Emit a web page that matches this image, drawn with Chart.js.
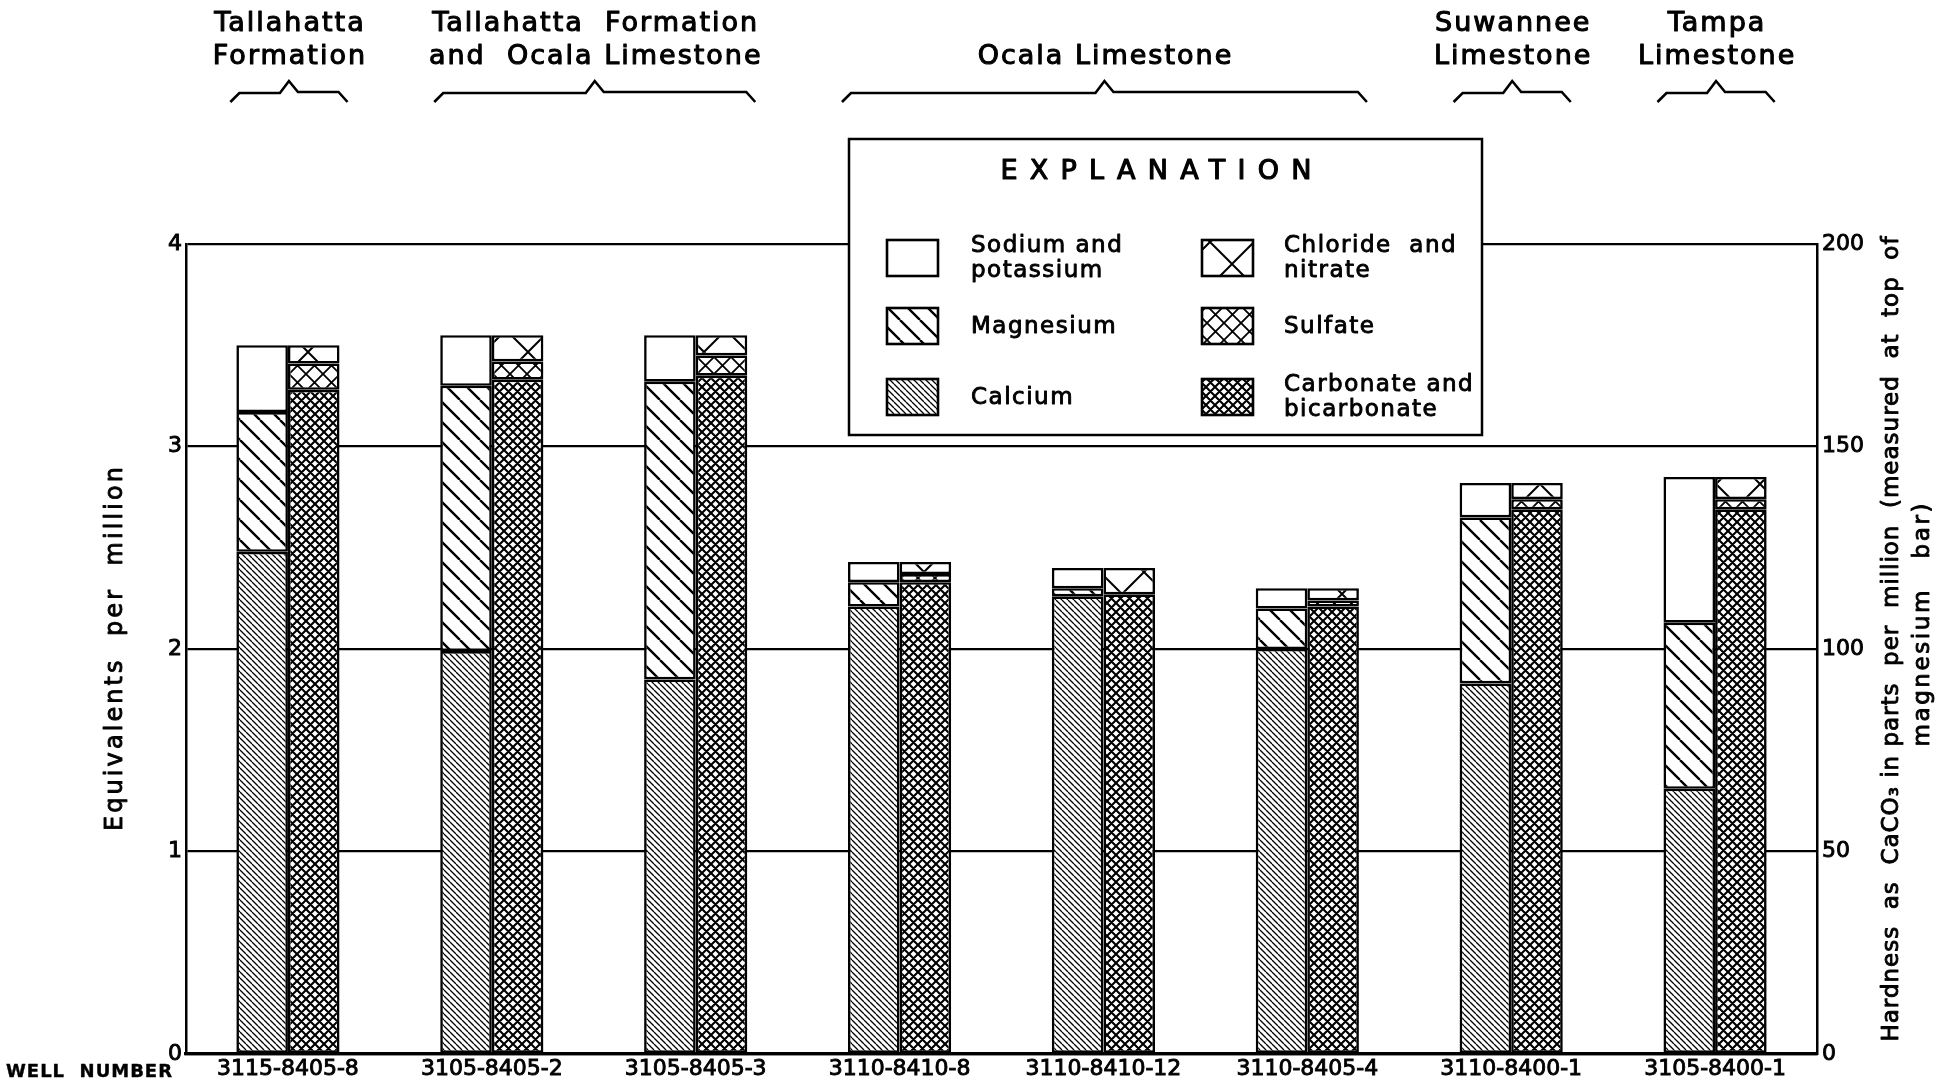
<!DOCTYPE html>
<html>
<head>
<meta charset="utf-8">
<script src="https://cdn.jsdelivr.net/npm/chart.js@4"></script>
<style>
  html, body { margin: 0; padding: 0; background: #fff; }
  canvas { display: block; }
</style>
</head>
<body>
<canvas id="c" width="1949" height="1086"></canvas>
<script>
// Well numbers along the bottom axis
const wells = ['3115-8405-8', '3105-8405-2', '3105-8405-3', '3110-8410-8',
               '3110-8410-12', '3110-8405-4', '3110-8400-1', '3105-8400-1'];

// Cations, equivalents per million (stacked bottom to top)
const calcium         = [2.48, 1.99, 1.85, 2.21, 2.26, 2.00, 1.83, 1.31];
const magnesium       = [0.69, 1.31, 1.47, 0.12, 0.04, 0.20, 0.82, 0.82];
const sodiumPotassium = [0.33, 0.25, 0.23, 0.10, 0.10, 0.10, 0.17, 0.72];

// Anions, equivalents per million (stacked bottom to top)
const carbonate       = [3.28, 3.33, 3.35, 2.33, 2.27, 2.21, 2.69, 2.69];
const sulfate         = [0.13, 0.09, 0.10, 0.04, 0.00, 0.03, 0.05, 0.05];
const chlorideNitrate = [0.09, 0.13, 0.10, 0.06, 0.13, 0.06, 0.08, 0.11];

// Water-bearing formations and the wells they span
const formationLines = [['Tallahatta', 'Formation'],
                        ['Tallahatta  Formation', 'and  Ocala Limestone'],
                        ['Ocala Limestone'],
                        ['Suwannee', 'Limestone'],
                        ['Tampa', 'Limestone']];
const formationFirst = [0, 1, 3, 6, 7];
const formationLast  = [0, 2, 5, 6, 7];

// Axis ranges
const epmMax = 4, epmStep = 1;
const hardnessMax = 200, hardnessStep = 50;

const leftTitle = 'Equivalents  per  million';
const rightTitle = ['Hardness  as  CaCO\u2083 in parts  per  million  (measured  at  top  of', 'magnesium   bar)'];

const FONT = '"DejaVu Sans", "Liberation Sans", Arial, sans-serif';
const canvas = document.getElementById('c');
const ctx = canvas.getContext('2d');

// Hatch fills: back = "\" strokes, fwd = "/" strokes
function hatch(size, lw, back, fwd) {
  const t = document.createElement('canvas');
  t.width = t.height = size;
  const g = t.getContext('2d');
  g.fillStyle = '#fff';
  g.fillRect(0, 0, size, size);
  if (back || fwd) {
    g.strokeStyle = '#000';
    g.lineWidth = lw;
    g.beginPath();
    for (const o of [-size, 0, size]) {
      if (back) { g.moveTo(o, 0); g.lineTo(o + size, size); }
      if (fwd)  { g.moveTo(o, size); g.lineTo(o + size, 0); }
    }
    g.stroke();
  }
  return ctx.createPattern(t, 'repeat');
}

const fillSodium    = '#ffffff';
const fillMagnesium = hatch(20, 2.4, true, false);
const fillCalcium   = hatch(6, 1.3, true, false);
const fillChloride  = hatch(44, 2.0, true, true);
const fillSulfate   = hatch(17, 1.8, true, true);
const fillCarbonate = hatch(9, 2.1, true, true);

const legendItems = [
  { col: 0, row: 0, lines: ['Sodium and', 'potassium'], fill: fillSodium },
  { col: 0, row: 1, lines: ['Magnesium'], fill: fillMagnesium },
  { col: 0, row: 2, lines: ['Calcium'], fill: fillCalcium },
  { col: 1, row: 0, lines: ['Chloride  and', 'nitrate'], fill: fillChloride },
  { col: 1, row: 1, lines: ['Sulfate'], fill: fillSulfate },
  { col: 1, row: 2, lines: ['Carbonate and', 'bicarbonate'], fill: fillCarbonate }
];

// Draws a string with a light outline for a heavier lettering look; when
// `fit` is given the letter spacing is set so the string spans that width.
function text(c, str, x, y, size, opts = {}) {
  c.save();
  c.font = (opts.weight || '') + ' ' + size + 'px ' + FONT;
  c.fillStyle = '#000';
  c.strokeStyle = '#000';
  c.lineWidth = opts.stroke == null ? 0.9 : opts.stroke;
  c.lineJoin = 'round';
  c.textBaseline = 'middle';
  let spacing = opts.spacing || 0;
  if (opts.fit) {
    c.letterSpacing = '0px';
    const w = c.measureText(str).width;
    spacing = (opts.fit - w) / Math.max(1, str.length - 1);
  }
  c.letterSpacing = spacing + 'px';
  const align = opts.align || 'left';
  c.textAlign = align;
  // trailing spacing is part of the measured run; keep centred text centred
  const dx = align === 'center' ? spacing / 2 : 0;
  if (opts.rotate) {
    c.translate(x, y);
    c.rotate(opts.rotate);
    x = 0; y = 0;
  }
  c.fillText(str, x + dx, y);
  if (c.lineWidth > 0) c.strokeText(str, x + dx, y);
  c.restore();
}

const decorations = {
  id: 'decorations',
  afterDraw(chart) {
    const c = chart.ctx;
    const area = chart.chartArea;
    const catMeta = chart.getDatasetMeta(0);
    const anMeta = chart.getDatasetMeta(3);

    // formation braces and names
    c.save();
    c.strokeStyle = '#000';
    c.lineWidth = 2.6;
    c.lineJoin = 'miter';
    formationLines.forEach((lines, k) => {
      const a = catMeta.data[formationFirst[k]];
      const b = anMeta.data[formationLast[k]];
      const L = a.x - a.width / 2 - 6;
      const R = b.x + b.width / 2 + 8;
      const M = (L + R) / 2;
      c.beginPath();
      c.moveTo(L, 102);
      c.lineTo(L + 9, 93);
      c.lineTo(M - 9, 93);
      c.lineTo(M, 81);
      c.lineTo(M + 9, 92);
      c.lineTo(R - 9, 92);
      c.lineTo(R, 102);
      c.stroke();
      const ys = lines.length === 2 ? [24, 57] : [57];
      lines.forEach((s, j) => text(c, s, M, ys[j], 27, { align: 'center', spacing: 2, stroke: 1.1 }));
    });
    c.restore();

    // axis titles
    const midY = (area.top + area.bottom) / 2;
    text(c, leftTitle, 116, midY, 24, { align: 'center', rotate: -Math.PI / 2, fit: 364 });
    text(c, rightTitle[0], 1892, 639, 23, { align: 'center', rotate: -Math.PI / 2, fit: 805 });
    text(c, rightTitle[1], 1923, 625, 23, { align: 'center', rotate: -Math.PI / 2, fit: 243 });

    // row caption for the well numbers
    text(c, 'WELL  NUMBER', 6, 1072, 18, { weight: 'bold', fit: 166, stroke: 0.4 });

    // explanation box
    const bx = 849, by = 139, bw = 633, bh = 296;
    c.save();
    c.fillStyle = '#fff';
    c.fillRect(bx, by, bw, bh);
    c.strokeStyle = '#000';
    c.lineWidth = 2.5;
    c.strokeRect(bx, by, bw, bh);
    c.restore();
    text(c, 'EXPLANATION', 1156, 172, 27, { align: 'center', fit: 311, stroke: 1.2 });

    const swX = [887, 1202], txtX = [971, 1284], rowY = [258, 326, 397];
    legendItems.forEach(it => {
      const sx = swX[it.col], sy = rowY[it.row] - 18;
      c.save();
      c.fillStyle = it.fill;
      c.fillRect(sx, sy, 51, 36);
      c.strokeStyle = '#000';
      c.lineWidth = 2.6;
      c.strokeRect(sx, sy, 51, 36);
      c.restore();
      if (it.lines.length === 2) {
        text(c, it.lines[0], txtX[it.col], rowY[it.row] - 12, 23, { spacing: 1.5 });
        text(c, it.lines[1], txtX[it.col], rowY[it.row] + 13, 23, { spacing: 1.5 });
      } else {
        text(c, it.lines[0], txtX[it.col], rowY[it.row] + 1, 23, { spacing: 1.5 });
      }
    });
  }
};

const tickFont = { family: FONT, size: 22 };
const tickStyle = { color: '#000', font: tickFont, textStrokeColor: '#000', textStrokeWidth: 0.9 };

new Chart(ctx, {
  type: 'bar',
  data: {
    labels: wells,
    datasets: [
      { label: 'Calcium', data: calcium, stack: 'cations', backgroundColor: fillCalcium },
      { label: 'Magnesium', data: magnesium, stack: 'cations', backgroundColor: fillMagnesium },
      { label: 'Sodium and potassium', data: sodiumPotassium, stack: 'cations', backgroundColor: fillSodium },
      { label: 'Carbonate and bicarbonate', data: carbonate, stack: 'anions', backgroundColor: fillCarbonate },
      { label: 'Sulfate', data: sulfate, stack: 'anions', backgroundColor: fillSulfate },
      { label: 'Chloride and nitrate', data: chlorideNitrate, stack: 'anions', backgroundColor: fillChloride }
    ]
  },
  options: {
    responsive: false,
    animation: false,
    devicePixelRatio: 1,
    layout: { padding: { top: 244, left: 0, right: 0, bottom: 0 } },
    datasets: {
      bar: {
        borderColor: '#000',
        borderWidth: 2.6,
        borderSkipped: false,
        categoryPercentage: 0.506,
        barPercentage: 1
      }
    },
    plugins: { legend: { display: false }, tooltip: { enabled: false } },
    scales: {
      x: {
        stacked: true,
        grid: { display: false, drawTicks: false },
        border: { display: true, color: '#000', width: 3.2 },
        ticks: { ...tickStyle, padding: 2, maxRotation: 0, autoSkip: false },
        afterFit: s => { s.height = 32; }
      },
      y: {
        position: 'left',
        stacked: true,
        min: 0,
        max: epmMax,
        ticks: { ...tickStyle, stepSize: epmStep, padding: 4 },
        grid: { color: '#000', lineWidth: 2.3, drawTicks: false },
        border: { display: true, color: '#000', width: 2.5 },
        afterFit: s => { s.width = 186; }
      },
      y2: {
        position: 'right',
        min: 0,
        max: hardnessMax,
        ticks: { ...tickStyle, stepSize: hardnessStep, padding: 5 },
        grid: { display: false, drawTicks: false },
        border: { display: true, color: '#000', width: 2.5 },
        afterFit: s => { s.width = 132; }
      }
    }
  },
  plugins: [decorations]
});
</script>
</body>
</html>
